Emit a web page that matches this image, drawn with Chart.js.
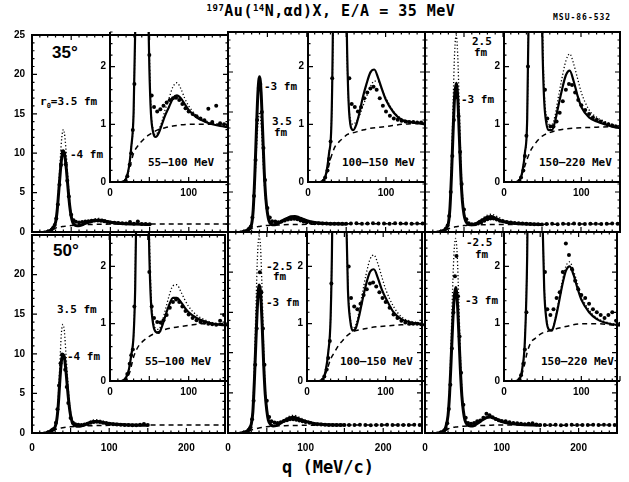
<!DOCTYPE html>
<html>
<head>
<meta charset="utf-8">
<script src="https://cdn.jsdelivr.net/npm/chart.js@4.4.1/dist/chart.umd.min.js"></script>
<style>
body { margin: 0; background: #fff; width: 629px; height: 482px; position: relative; overflow: hidden; }
canvas { position: absolute; }
.t { position: absolute; font: bold 11px "DejaVu Sans Mono", monospace; color: #000; white-space: nowrap; line-height: 1; }
.title { position: absolute; left: 0; width: 662px; top: 4px; text-align: center; font: bold 15px "DejaVu Sans Mono", monospace; letter-spacing: 0.5px; line-height: 1; }
.title sup { font-size: 9px; vertical-align: 5px; }
.ang { position: absolute; font: bold 17px "Liberation Sans", Arial, sans-serif; line-height: 1; }
.xt { position: absolute; left: 0; width: 656px; top: 459px; text-align: center; font: bold 17px "DejaVu Sans Mono", monospace; line-height: 1; }
</style>
</head>
<body>
<div class="title"><sup>197</sup>Au(<sup>14</sup>N,αd)X, E/A = 35 MeV</div>
<div class="t" style="left:553px;top:14px;font-size:8px;letter-spacing:1px">MSU-86-532</div>
<div class="ang" style="left:52px;top:44px">35°</div>
<div class="ang" style="left:53px;top:242px">50°</div>
<div class="xt">q (MeV/c)</div>

<div class="t" style="left:40px;top:96px">r<sub style="font-size:7px">0</sub>=3.5 fm</div>
<div class="t" style="left:70px;top:149px">-4 fm</div>
<div class="t" style="left:264px;top:81px">-3 fm</div>
<div class="t" style="left:272px;top:116px">3.5</div>
<div class="t" style="left:274px;top:127px">fm</div>
<div class="t" style="left:472px;top:36px">2.5</div>
<div class="t" style="left:474px;top:47px">fm</div>
<div class="t" style="left:461px;top:94px">-3 fm</div>
<div class="t" style="left:57px;top:304px">3.5 fm</div>
<div class="t" style="left:67px;top:351px">-4 fm</div>
<div class="t" style="left:266px;top:261px">-2.5</div>
<div class="t" style="left:273px;top:271px">fm</div>
<div class="t" style="left:266px;top:297px">-3 fm</div>
<div class="t" style="left:466px;top:237px">-2.5</div>
<div class="t" style="left:475px;top:249px">fm</div>
<div class="t" style="left:465px;top:295px">-3 fm</div>

<div class="t" style="left:148px;top:157px">55–100 MeV</div>
<div class="t" style="left:342px;top:157px">100–150 MeV</div>
<div class="t" style="left:539px;top:157px">150–220 MeV</div>
<div class="t" style="left:145px;top:356px">55–100 MeV</div>
<div class="t" style="left:340px;top:356px">100–150 MeV</div>
<div class="t" style="left:541px;top:356px">150–220 MeV</div>

<script>
// q grids (MeV/c)
const qLine = [15, 20, 24, 27, 30, 32, 34, 36, 38, 40, 42, 44, 46, 48, 50, 52, 55, 58, 62, 66, 70, 75, 80, 85, 90, 95, 100, 110, 120, 130, 140, 150];
const qBack = [15, 20, 25, 30, 35, 40, 45, 50, 60, 70, 80, 100, 120, 150, 200, 250];
const qPts = [20, 22, 25, 27, 29, 31, 33, 35, 37, 39, 41, 43, 45, 47, 50, 53, 56, 60, 64, 68, 72, 76, 80, 84, 88, 92, 96, 100, 105, 110, 115, 120, 125, 130, 135, 140, 145, 150];
const qTail = [156, 163, 170, 177, 184, 191, 198, 205, 212, 219, 226, 233, 240, 247];

// 35 deg, 55-100 MeV
const solid1 = [0, 0.05, 0.25, 0.6, 1.2, 2.6, 5.0, 7.5, 9.5, 10.3, 9.6, 7.8, 5.5, 3.4, 2.0, 1.2, 0.85, 0.78, 0.85, 1.0, 1.15, 1.3, 1.45, 1.5, 1.45, 1.35, 1.25, 1.12, 1.05, 1.0, 0.97, 0.95];
const dotted1 = [0, 0.05, 0.25, 0.6, 1.2, 2.8, 5.8, 9.2, 12.0, 13.0, 12.0, 9.5, 6.5, 4.0, 2.3, 1.3, 0.9, 0.82, 0.9, 1.05, 1.25, 1.45, 1.65, 1.72, 1.62, 1.45, 1.32, 1.15, 1.07, 1.02, 1.0, 0.98];
const dashed1 = [0, 0.05, 0.25, 0.5, 0.62, 0.7, 0.77, 0.82, 0.9, 0.94, 0.97, 1.0, 1.0, 1.0, 1.02, 1.02];
const data1 = [0.02, 0.1, 0.3, 0.5, 0.9, 1.7, 3.5, 6.0, 8.5, 10.2, 10.0, 8.6, 6.5, 4.5, 2.2, 1.5, 1.3, 1.22, 1.26, 1.32, 1.38, 1.42, 1.45, 1.46, 1.42, 1.35, 1.28, 1.22, 1.18, 1.14, 1.1, 1.07, 1.27, 1.04, 1.32, 1.02, 1.0, 0.98];

// 35 deg, 100-150 MeV
const solid2 = [0, 0.03, 0.2, 0.5, 1.0, 2.8, 7.0, 12.5, 17.5, 19.4, 17.5, 12.5, 7.5, 4.2, 2.4, 1.4, 0.95, 0.9, 1.0, 1.2, 1.45, 1.7, 1.9, 1.95, 1.8, 1.6, 1.42, 1.2, 1.08, 1.04, 1.02, 1.0];
const dotted2 = [0, 0.03, 0.2, 0.5, 1.0, 2.5, 5.8, 10.0, 13.5, 15.0, 13.5, 10.0, 6.2, 3.6, 2.2, 1.4, 1.05, 1.0, 1.05, 1.15, 1.3, 1.48, 1.65, 1.75, 1.74, 1.6, 1.45, 1.22, 1.1, 1.05, 1.03, 1.01];
const dashed2 = [0, 0.03, 0.2, 0.45, 0.62, 0.7, 0.76, 0.82, 0.86, 0.9, 0.93, 0.96, 1.0, 1.02, 1.03, 1.03];
const data2 = [0.02, 0.08, 0.2, 0.4, 0.7, 1.8, 4.5, 9.0, 14.0, 18.0, 18.5, 15.0, 10.5, 6.5, 3.0, 1.8, 1.35, 1.3, 1.22, 1.3, 1.45, 1.55, 1.62, 1.65, 1.6, 1.45, 1.32, 1.22, 1.15, 1.1, 1.08, 1.06, 1.05, 1.04, 1.04, 1.03, 1.03, 1.02];
const tail2 = [1.05, 1.08, 1.04, 1.06, 1.1, 1.05, 1.07, 1.04, 1.08, 1.05, 1.06, 1.03, 1.07, 1.05];

// 35 deg, 150-220 MeV
const solid3 = [0, 0.03, 0.2, 0.5, 1.1, 3.0, 7.2, 12.5, 17.0, 18.6, 16.8, 12.0, 7.0, 3.8, 2.2, 1.4, 1.0, 0.9, 0.9, 1.05, 1.3, 1.6, 1.85, 1.93, 1.75, 1.5, 1.3, 1.12, 1.05, 1.0, 0.96, 0.93];
const dotted3 = [0, 0.03, 0.2, 0.5, 1.1, 3.5, 9.0, 16.0, 22.5, 24.6, 22.0, 15.5, 9.0, 4.8, 2.6, 1.6, 1.12, 1.0, 1.0, 1.15, 1.45, 1.8, 2.1, 2.22, 2.05, 1.8, 1.55, 1.25, 1.12, 1.05, 1.0, 0.97];
const dashed3 = [0, 0.03, 0.2, 0.4, 0.56, 0.66, 0.74, 0.8, 0.86, 0.9, 0.92, 0.94, 0.95, 0.97, 1.0, 1.02];
const data3 = [0.02, 0.08, 0.2, 0.45, 0.8, 2.0, 5.0, 9.5, 14.0, 16.8, 17.2, 14.5, 10.0, 6.0, 2.8, 1.6, 1.1, 0.96, 0.96, 1.05, 1.2, 1.4, 1.6, 1.7, 1.68, 1.55, 1.42, 1.33, 1.25, 1.18, 1.12, 1.08, 1.05, 1.02, 1.0, 0.98, 0.96, 0.95];
const tail3 = [1.0, 1.02, 0.98, 1.03, 1.0, 1.05, 1.01, 0.99, 1.04, 1.02, 1.0, 1.03, 1.05, 1.02];

// 50 deg, 55-100 MeV
const solid4 = [0, 0.05, 0.2, 0.45, 0.8, 1.6, 3.5, 6.5, 9.0, 9.9, 9.5, 7.8, 5.6, 3.6, 2.2, 1.4, 0.98, 0.86, 0.84, 0.95, 1.12, 1.32, 1.45, 1.45, 1.38, 1.28, 1.2, 1.1, 1.04, 1.0, 0.98, 0.97];
const dotted4 = [0, 0.05, 0.2, 0.45, 0.8, 1.8, 4.5, 8.5, 12.5, 13.7, 12.8, 10.0, 7.0, 4.4, 2.6, 1.6, 1.05, 0.92, 0.9, 1.02, 1.22, 1.48, 1.66, 1.68, 1.56, 1.42, 1.3, 1.15, 1.07, 1.02, 1.0, 0.98];
const dashed4 = [0, 0.03, 0.15, 0.42, 0.58, 0.67, 0.73, 0.78, 0.85, 0.9, 0.93, 0.97, 1.0, 1.0, 1.0, 1.0];
const data4 = [0.03, 0.12, 0.3, 0.45, 0.55, 1.3, 3.0, 6.0, 8.8, 9.9, 9.6, 8.0, 5.8, 3.8, 1.9, 1.3, 1.1, 1.03, 1.02, 1.06, 1.15, 1.28, 1.38, 1.42, 1.38, 1.3, 1.22, 1.16, 1.1, 1.06, 1.03, 1.02, 1.0, 0.99, 0.98, 1.05, 1.15, 1.0];

// 50 deg, 100-150 MeV
const solid5 = [0, 0.03, 0.2, 0.5, 1.1, 2.6, 6.5, 11.5, 16.0, 18.4, 17.5, 13.5, 8.5, 4.8, 2.8, 1.6, 1.05, 0.88, 0.92, 1.12, 1.38, 1.68, 1.9, 1.95, 1.8, 1.6, 1.45, 1.2, 1.08, 1.03, 1.0, 0.98];
const dotted5 = [0, 0.03, 0.2, 0.5, 1.1, 3.0, 8.5, 15.5, 22.0, 24.5, 23.0, 17.5, 10.5, 5.5, 3.0, 1.7, 1.1, 0.92, 0.98, 1.2, 1.5, 1.85, 2.12, 2.2, 2.05, 1.82, 1.6, 1.3, 1.12, 1.05, 1.02, 1.0];
const dashed5 = [0, 0.03, 0.18, 0.38, 0.5, 0.62, 0.7, 0.78, 0.87, 0.9, 0.93, 0.96, 0.98, 1.0, 1.0, 1.0];
const data5 = [0.02, 0.08, 0.2, 0.4, 0.7, 1.7, 4.0, 8.5, 13.0, 17.0, 20.0, 17.5, 13.0, 8.5, 4.0, 2.0, 1.45, 1.3, 1.25, 1.35, 1.5, 1.6, 1.7, 1.72, 1.65, 1.55, 1.45, 1.38, 1.28, 1.16, 1.1, 1.05, 1.02, 1.0, 1.0, 1.0, 0.99, 0.98];
const tail5 = [1.0, 0.98, 1.02, 1.0, 0.97, 1.01, 0.99, 1.02, 1.0, 0.98, 1.01, 1.0, 1.02, 0.99];

// 50 deg, 150-220 MeV
const solid6 = [0, 0.03, 0.25, 0.7, 2.2, 4.8, 9.0, 13.5, 16.8, 18.1, 16.5, 12.5, 8.0, 4.6, 2.7, 1.6, 1.05, 0.9, 0.88, 1.05, 1.3, 1.65, 1.92, 2.0, 1.85, 1.62, 1.42, 1.2, 1.08, 1.02, 0.99, 0.97];
const dotted6 = [0, 0.03, 0.25, 0.7, 2.4, 5.5, 11.5, 18.0, 22.8, 24.2, 22.0, 16.5, 10.0, 5.5, 3.0, 1.7, 1.1, 0.92, 0.9, 1.08, 1.35, 1.72, 2.0, 2.08, 1.92, 1.7, 1.48, 1.24, 1.1, 1.04, 1.0, 0.98];
const dashed6 = [0, 0.03, 0.2, 0.5, 0.68, 0.74, 0.8, 0.84, 0.88, 0.92, 0.95, 1.0, 1.0, 0.97, 0.98, 1.0];
const data6 = [0.03, 0.1, 0.3, 0.55, 1.2, 3.0, 6.0, 10.5, 15.0, 19.5, 22.0, 17.0, 12.0, 7.5, 3.5, 1.9, 1.25, 1.15, 1.25, 1.45, 1.55, 1.9, 2.4, 2.2, 1.95, 1.75, 1.6, 1.5, 1.45, 1.35, 1.25, 1.2, 1.15, 1.1, 1.15, 1.2, 1.05, 1.0];
const tail6 = [1.0, 0.98, 1.02, 0.97, 1.0, 1.03, 0.99, 1.01, 0.98, 1.02, 1.0, 1.03, 0.99, 1.01];

const framePlugin = {
    id: 'frame',
    afterDraw(chart, args, opts) {
        const { ctx, chartArea: a, scales: { x, y } } = chart;
        ctx.save();
        ctx.strokeStyle = '#000';
        ctx.lineWidth = 2;
        ctx.beginPath();
        if (opts.box) {
            ctx.rect(a.left, a.top, a.right - a.left, a.bottom - a.top);
        } else {
            ctx.moveTo(a.left, a.top);
            ctx.lineTo(a.left, a.bottom);
            ctx.lineTo(a.right, a.bottom);
        }
        ctx.stroke();
        ctx.lineWidth = 1.2;
        ctx.beginPath();
        const nx = Math.round((x.max - x.min) / opts.xMinor);
        for (let i = 0; i <= nx; i++) {
            const px = x.getPixelForValue(x.min + i * opts.xMinor);
            const len = i % opts.xEvery === 0 ? 5 : 2.5;
            ctx.moveTo(px, a.bottom); ctx.lineTo(px, a.bottom - len);
            if (opts.box) { ctx.moveTo(px, a.top); ctx.lineTo(px, a.top + len); }
        }
        const ny = Math.round((y.max - y.min) / opts.yMinor);
        for (let i = 0; i <= ny; i++) {
            const py = y.getPixelForValue(y.min + i * opts.yMinor);
            const len = i % opts.yEvery === 0 ? 5 : 2.5;
            ctx.moveTo(a.left, py); ctx.lineTo(a.left + len, py);
            if (opts.box) { ctx.moveTo(a.right, py); ctx.lineTo(a.right - len, py); }
        }
        ctx.stroke();
        ctx.restore();
    }
};
Chart.register(framePlugin);

class CorrelationFigure {
    constructor() {
        this.padL = 32; this.padT = 10; this.padR = 6; this.padB = 26;
        this.charts = [];
        const cols = [[32, 228], [228, 425], [425, 620]];
        const insetLeft = [[110, 308, 504], [110, 307, 504]];
        const rows = [[32, 232, 182], [232, 433, 381]];
        const sets = [
            [solid1, dotted1, dashed1, data1, null],
            [solid2, dotted2, dashed2, data2, tail2],
            [solid3, dotted3, dashed3, data3, tail3],
            [solid4, dotted4, dashed4, data4, null],
            [solid5, dotted5, dashed5, data5, tail5],
            [solid6, dotted6, dashed6, data6, tail6]
        ];
        rows.forEach(([top, bottom, insetBottom], r) => {
            cols.forEach(([left, right], c) => {
                const set = sets[r * 3 + c];
                this.charts.push(this.makeChart({ l: left, r: right, t: top, b: bottom }, set, false, r === 1, c === 0, r === 1));
                this.charts.push(this.makeChart({ l: insetLeft[r][c], r: right, t: top, b: insetBottom }, set, true, true, true, false));
            });
        });
    }

    xy(qs, vals) {
        return qs.map((q, i) => ({ x: q, y: vals[i] }));
    }

    makeChart(box, set, inset, showX, showY, hideTop) {
        const [solid, dotted, dashed, pts, tail] = set;
        const c = document.createElement('canvas');
        const w = box.r - box.l + this.padL + this.padR;
        const h = box.b - box.t + this.padT + this.padB;
        c.width = w; c.height = h;
        c.style.left = (box.l - this.padL) + 'px';
        c.style.top = (box.t - this.padT) + 'px';
        document.body.appendChild(c);
        const padL = this.padL, padB = this.padB;
        const tickFont = { family: 'Liberation Sans', weight: 'bold', size: 10 };
        const points = this.xy(qPts, pts).concat(tail ? this.xy(qTail, tail) : []);
        return new Chart(c.getContext('2d'), {
            type: 'scatter',
            data: {
                datasets: [
                    { data: this.xy(qBack, dashed), showLine: true, borderColor: '#000', borderWidth: 1.5, borderDash: [5, 4], pointRadius: 0, cubicInterpolationMode: 'monotone' },
                    { data: this.xy(qLine, dotted), showLine: true, borderColor: '#000', borderWidth: 1.3, borderDash: [1.2, 2.2], pointRadius: 0, cubicInterpolationMode: 'monotone' },
                    { data: this.xy(qLine, solid), showLine: true, borderColor: '#000', borderWidth: inset ? 2.2 : 3, pointRadius: 0, cubicInterpolationMode: 'monotone' },
                    { data: points, showLine: false, pointRadius: 2, backgroundColor: '#000', borderWidth: 0 }
                ]
            },
            options: {
                responsive: false,
                animation: false,
                events: [],
                layout: { padding: { left: 0, top: this.padT, right: this.padR, bottom: 0 } },
                plugins: {
                    legend: { display: false },
                    tooltip: { enabled: false },
                    frame: inset
                        ? { box: false, xMinor: 10, xEvery: 5, yMinor: 0.2, yEvery: 5 }
                        : { box: true, xMinor: 10, xEvery: 5, yMinor: 1, yEvery: 5 }
                },
                scales: {
                    x: {
                        type: 'linear', min: 0, max: inset ? 150 : 250,
                        grid: { display: false, drawTicks: false },
                        border: { display: false },
                        ticks: {
                            display: showX, stepSize: 50, padding: inset ? 5 : 9,
                            color: '#000', font: tickFont, maxRotation: 0,
                            callback: v => (v === 0 || v === 100 || v === 200) ? String(v) : ''
                        },
                        afterFit: s => { s.height = padB; }
                    },
                    y: {
                        type: 'linear', min: 0, max: inset ? 2.6 : 25,
                        grid: { display: false, drawTicks: false },
                        border: { display: false },
                        ticks: {
                            display: showY, stepSize: inset ? 1 : 5, padding: inset ? 4 : 7,
                            color: '#000', font: tickFont,
                            callback: v => (Number.isInteger(v) && !(hideTop && v === 25)) ? String(v) : ''
                        },
                        afterFit: s => { s.width = padL; }
                    }
                }
            }
        });
    }
}

document.addEventListener('DOMContentLoaded', () => {
    new CorrelationFigure();
});
</script>
</body>
</html>
